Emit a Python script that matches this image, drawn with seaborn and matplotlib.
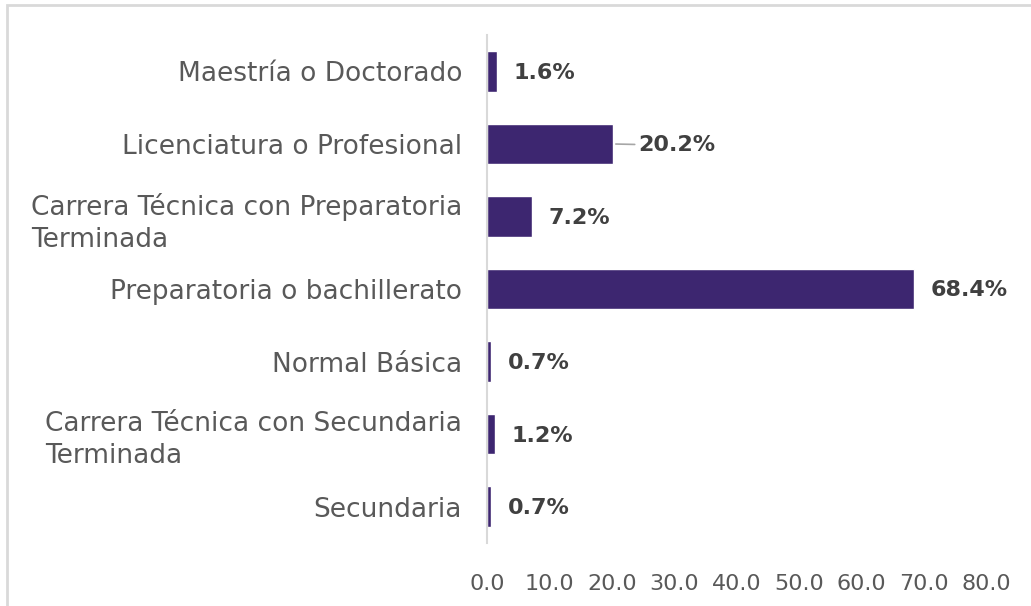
import matplotlib
matplotlib.use("Agg")
import matplotlib.pyplot as plt
import seaborn as sns
import pandas as pd
from matplotlib.patches import Rectangle

categories = [
    "Maestría o Doctorado",
    "Licenciatura o Profesional",
    "Carrera Técnica con Preparatoria\nTerminada",
    "Preparatoria o bachillerato",
    "Normal Básica",
    "Carrera Técnica con Secundaria\nTerminada",
    "Secundaria",
]
values = [1.6, 20.2, 7.2, 68.4, 0.7, 1.2, 0.7]
xticks = [0, 10, 20, 30, 40, 50, 60, 70, 80]

sns.set_theme(style="white")
plt.rcParams["font.family"] = ["DejaVu Sans"]

df = pd.DataFrame({"cat": categories, "val": values})

fig = plt.figure(figsize=(10.31, 6.06), dpi=100)
ax = fig.add_axes([0.4724, 0.104, 0.4839, 0.838])

sns.barplot(data=df, y="cat", x="val", orient="h", color="#3D2670",
            saturation=1, width=0.56, ax=ax)

ax.set_xlim(0, 80)
ax.set_xticks(xticks)
ax.set_xticklabels([f"{t:.1f}" for t in xticks])
ax.set_xlabel("")
ax.set_ylabel("")

for s in ["top", "right", "bottom"]:
    ax.spines[s].set_visible(False)
ax.spines["left"].set_color("#d9d9d9")
ax.spines["left"].set_linewidth(1.5)

ax.tick_params(axis="y", length=0, pad=18, labelsize=19, labelcolor="#595959")
ax.tick_params(axis="x", length=0, pad=22, labelsize=16, labelcolor="#595959")
for lab in ax.get_yticklabels():
    lab.set_multialignment("left")
    lab.set_linespacing(1.3)

for i, v in enumerate(values):
    if abs(v - 20.2) < 1e-9:
        ax.annotate(f"{v:.1f}%", xy=(v, i), xytext=(18, -1), textcoords="offset points",
                    ha="left", va="center", fontsize=16, fontweight="bold",
                    color="#404040",
                    arrowprops=dict(arrowstyle="-", color="#a6a6a6", lw=1.2,
                                    shrinkA=0, shrinkB=2))
    else:
        ax.annotate(f"{v:.1f}%", xy=(v, i), xytext=(12, -1), textcoords="offset points",
                    ha="left", va="center", fontsize=16, fontweight="bold",
                    color="#404040")

fig.patches.append(Rectangle((6.5 / 1031, -0.01), 1.2, 1 - 4.5 / 606 + 0.01,
                             transform=fig.transFigure, fill=False,
                             edgecolor="#d9d9d9", linewidth=2, zorder=0))

fig.savefig("out.png", dpi=100, facecolor="white")
